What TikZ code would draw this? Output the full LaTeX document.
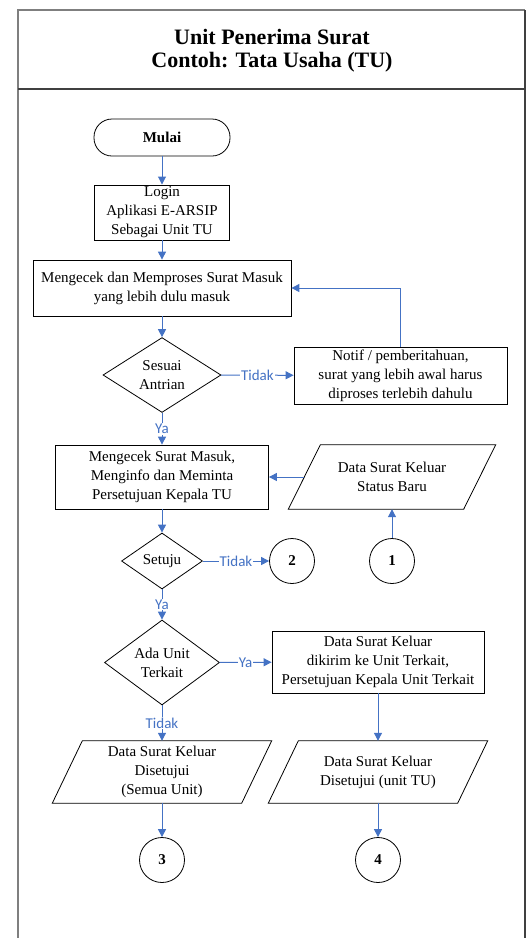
\documentclass[tikz,border=0pt]{standalone}
\usepackage{fontspec}
\setmainfont{Liberation Serif}
\newfontfamily\flowlabelfont{Carlito}
\usetikzlibrary{shapes.geometric,arrows.meta}
\definecolor{flowblue}{HTML}{4472C4}
\definecolor{framegray}{HTML}{7F7F7F}
\definecolor{framedark}{HTML}{404040}

% outline of a slanted data box around a (borderless) node
\newcommand\slantoutline[2]{%
  \draw[line width=0.8pt] ([xshift=#2]#1.north west) -- ([xshift=#2]#1.north east)
    -- ([xshift=-#2]#1.south east) -- ([xshift=-#2]#1.south west) -- cycle;}

\begin{document}
\begin{tikzpicture}[x=1pt,y=-1pt,
  every node/.style={font=\fontsize{15}{19}\selectfont},
  procbox/.style={draw, line width=0.8pt, align=center, inner sep=2pt},
  termbox/.style={draw, line width=0.8pt, rounded corners=18pt, minimum width=136, minimum height=37,
    font=\bfseries\fontsize{15}{19}\selectfont},
  decision/.style={draw, diamond, line width=0.8pt, align=center, inner sep=0pt},
  databox/.style={align=center, inner sep=0pt},
  connector/.style={draw, circle, line width=0.8pt, minimum size=45, inner sep=0pt,
    font=\bfseries\fontsize{15}{19}\selectfont},
  flow/.style={draw=flowblue, line width=1pt, -{Triangle[length=8pt,width=8pt]}},
  flowlabel/.style={font=\flowlabelfont\fontsize{15}{17}\selectfont, text=flowblue, fill=white, inner sep=1pt}
]
\useasboundingbox (0,0) rectangle (526,938);

% lane frame and header
\draw[framegray, line width=1.5pt] (18,938) -- (18,10) -- (525,10);
\draw[framedark, line width=1.2pt] (525,10) -- (525,938);
\draw[framedark, line width=1.5pt] (18,89) -- (525,89);
\node[align=center, font=\bfseries\fontsize{22}{23}\selectfont] (title) at (272,51)
  {Unit Penerima Surat\\Contoh: Tata Usaha (TU)};

% left column
\node[termbox] (start) at (162,137.5) {Mulai};
\node[procbox, minimum width=135, minimum height=55] (login) at (162,212.5)
  {Login\\Aplikasi E-ARSIP\\Sebagai Unit TU};
\node[procbox, minimum width=258, minimum height=56] (check) at (162,288)
  {Mengecek dan Memproses Surat Masuk\\yang lebih dulu masuk};
\node[decision, minimum width=118, minimum height=68] (queue) at (162,375)
  {Sesuai\\Antrian};
\node[procbox, minimum width=213, minimum height=57] (notif) at (400.5,375.5)
  {Notif / pemberitahuan,\\surat yang lebih awal harus\\diproses terlebih dahulu};
\node[procbox, minimum width=213, minimum height=64] (ask) at (162,477)
  {Mengecek Surat Masuk,\\Menginfo dan Meminta\\Persetujuan Kepala TU};
\node[databox, minimum width=175, minimum height=64] (newdata) at (392,477)
  {Data Surat Keluar\\Status Baru};
\slantoutline{newdata}{16}
\node[connector] (c1) at (392,561) {1};
\node[decision, minimum width=81, minimum height=56] (agree) at (162,561) {Setuju};
\node[connector] (c2) at (292,561) {2};
\node[decision, minimum width=115, minimum height=79] (related) at (162,662.5)
  {Ada Unit\\Terkait};
\node[procbox, minimum width=212, minimum height=62] (send) at (378,662)
  {Data Surat Keluar\\dikirim ke Unit Terkait,\\Persetujuan Kepala Unit Terkait};
\node[databox, minimum width=189, minimum height=62] (allok) at (162,772)
  {Data Surat Keluar\\Disetujui\\(Semua Unit)};
\slantoutline{allok}{15}
\node[databox, minimum width=189, minimum height=62] (tuok) at (378,772)
  {Data Surat Keluar\\Disetujui (unit TU)};
\slantoutline{tuok}{15}
\node[connector] (c3) at (162,860) {3};
\node[connector] (c4) at (378,860) {4};

% connectors
\draw[flow] (start) -- (login);
\draw[flow] (login) -- (check);
\draw[flow] (check) -- (queue);
\draw[flow] (queue) -- node[flowlabel] {Tidak} (notif);
\draw[flow] (notif.north) |- (check.east);
\draw[flow] (queue) -- node[flowlabel] {Ya} (ask);
\draw[flow] (newdata.west) -- (ask.east);
\draw[flow] (c1) -- (newdata.south);
\draw[flow] (ask) -- (agree);
\draw[flow] (agree) -- node[flowlabel] {Tidak} (c2);
\draw[flow] (agree) -- node[flowlabel] {Ya} (related);
\draw[flow] (related) -- node[flowlabel] {Ya} (send);
\draw[flow] (related) -- node[flowlabel] {Tidak} (allok.north);
\draw[flow] (send) -- (tuok.north);
\draw[flow] (allok.south) -- (c3);
\draw[flow] (tuok.south) -- (c4);
\end{tikzpicture}
\end{document}
